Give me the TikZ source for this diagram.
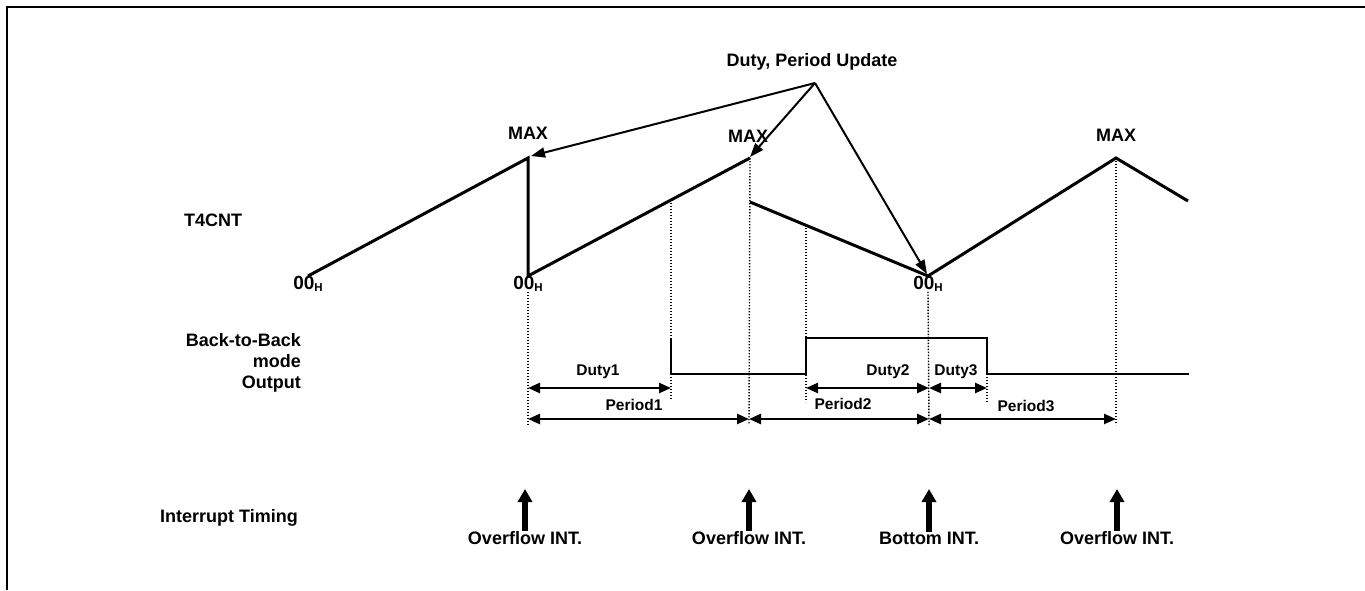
\documentclass[tikz,border=0pt]{standalone}
\usepackage{fontspec}
\setmainfont{Liberation Sans}
\usetikzlibrary{arrows.meta, positioning}
\tikzset{
  wave/.style={line width=3pt, line join=miter},
  pulse/.style={line width=2pt},
  guide/.style={line width=1.4pt, dash pattern=on 1.4pt off 1.6pt},
  dimarrow/.style={line width=2.4pt, {Triangle[length=12pt,width=10pt]}-{Triangle[length=12pt,width=10pt]}},
  updarrow/.style={line width=2pt, -{Triangle[length=14pt,width=10pt]}},
  intarrow/.style={line width=6pt, -{Triangle[length=13pt,width=14pt]}},
  biglabel/.style={font=\fontsize{18}{21}\selectfont\bfseries, inner sep=0pt},
  smalllabel/.style={font=\fontsize{15.5}{17}\selectfont\bfseries, inner sep=0pt},
  zerolabel/.style={font=\fontsize{19}{20}\selectfont\bfseries, inner sep=0pt, anchor=north}
}
\newcommand{\zeroH}{00\raisebox{-2pt}{\fontsize{11.5}{12}\selectfont H}}

\begin{document}
\begin{tikzpicture}[x=1pt, y=-1pt]
  \useasboundingbox (0,0) rectangle (1365,590);
  \draw[line width=2pt] (7,590) -- (7,7) -- (1365,7);

  % counter points
  \coordinate (z1) at (308,276);
  \coordinate (m1) at (528,158);
  \coordinate (z2) at (528,276);
  \coordinate (m2) at (750,158);
  \coordinate (d2) at (750,202);
  \coordinate (z3) at (928,276);
  \coordinate (m3) at (1116,158);
  \coordinate (e3) at (1188,201);
  \coordinate (r1) at (671,200);
  \coordinate (r2) at (806,225);

  % output points
  \coordinate (p0) at (671,338);
  \coordinate (p1) at (671,374);
  \coordinate (p2) at (806,374);
  \coordinate (p3) at (806,338);
  \coordinate (p4) at (987,338);
  \coordinate (p5) at (987,374);
  \coordinate (p6) at (1189,374);

  % row labels
  \node (t4cnt) [biglabel] at (213,220) {T4CNT};
  \node (b2b) [biglabel, align=right, anchor=east] at (301,363) {Back-to-Back\\mode\\Output};
  \node (inttiming) [biglabel] at (229,518) {Interrupt Timing};

  % T4CNT
  \draw[wave] (z1) -- (m1) -- (z2) -- (m2);
  \draw[wave] (d2) -- (z3) -- (m3) -- (e3);
  \node (max1) [biglabel] at (528,133) {MAX};
  \node (max2) [biglabel] at (748,136) {MAX};
  \node (max3) [biglabel] at (1116,135) {MAX};
  \node (zero1) [zerolabel] at (z1) {\zeroH};
  \node (zero2) [zerolabel] at (z2) {\zeroH};
  \node (zero3) [zerolabel] at (z3) {\zeroH};

  % update
  \node (updtext) [biglabel] at (812,62) {Duty, Period Update};
  \coordinate (upd) at (815,83);
  \coordinate (u1) at (531,156);
  \coordinate (u2) at (750,157);
  \coordinate (u3) at (927,274);
  \draw[updarrow] (upd) -- (u1);
  \draw[updarrow] (upd) -- (u2);
  \draw[updarrow] (upd) -- (u3);

  % guides
  \draw[guide] (zero2.south) -- (528,425);
  \draw[guide] (m2) -- (749,425);
  \draw[guide] (r1) -- (671,400);
  \draw[guide] (r2) -- (806,402);
  \draw[guide] (zero3.south) -- (929,425);
  \draw[guide] (p5) -- (987,402);
  \draw[guide] (m3) -- (1116,425);

  % output
  \draw[pulse] (p0) -- (p1) -- (p2) -- (p3) -- (p4) -- (p5) -- (p6);

  % duty and period
  \coordinate (a1) at (528,388);
  \coordinate (a2) at (671,388);
  \coordinate (a3) at (806,388);
  \coordinate (a4) at (929,388);
  \coordinate (a5) at (987,388);
  \draw[dimarrow] (a1) -- (a2);
  \draw[dimarrow] (a3) -- (a4);
  \draw[dimarrow] (a4) -- (a5);
  \node (duty1) [smalllabel] at (598,372) {Duty1};
  \node (duty2) [smalllabel] at (888,372) {Duty2};
  \node (duty3) [smalllabel] at (956,372) {Duty3};

  \coordinate (b1) at (528,419);
  \coordinate (b2) at (749,419);
  \coordinate (b3) at (929,419);
  \coordinate (b4) at (1116,419);
  \draw[dimarrow] (b1) -- (b2);
  \draw[dimarrow] (b2) -- (b3);
  \draw[dimarrow] (b3) -- (b4);
  \node (period1) [smalllabel] at (634,405) {Period1};
  \node (period2) [smalllabel] at (843,404) {Period2};
  \node (period3) [smalllabel] at (1026,406) {Period3};

  % interrupts
  \foreach \x/\txt [count=\i] in {525/Overflow INT., 749/Overflow INT., 929/Bottom INT., 1117/Overflow INT.} {
    \node (intxt\i) [biglabel] at (\x,538) {\txt};
    \coordinate (it\i) at (\x,489);
    \draw[intarrow] (intxt\i.north) -- (it\i);
  }

\end{tikzpicture}
\end{document}
